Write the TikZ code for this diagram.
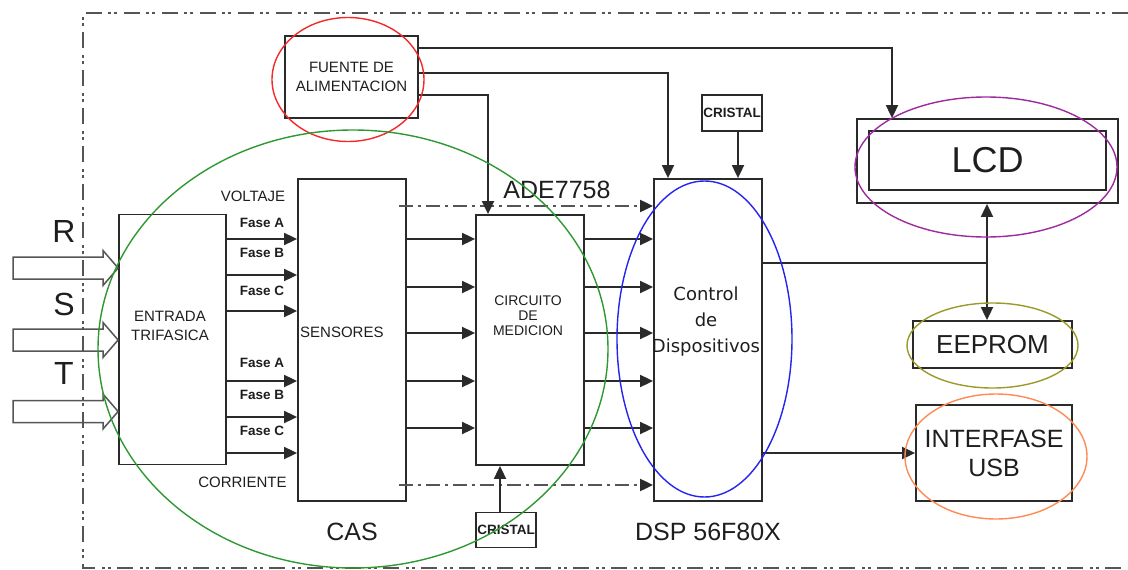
\documentclass[tikz,border=0pt]{standalone}
\usepackage{fontspec}
\setmainfont{Liberation Sans}
\newfontfamily\dvsans{DejaVu Sans}
\usetikzlibrary{arrows.meta,positioning,calc}
\definecolor{ink}{HTML}{1E1E1E}
\definecolor{edge}{HTML}{2A2A2A}
\definecolor{muted}{HTML}{555555}
\definecolor{cred}{HTML}{F42828}
\definecolor{cgreen}{HTML}{2E9932}
\definecolor{cblue}{HTML}{2424EE}
\definecolor{cpurple}{HTML}{9E2A9E}
\definecolor{colive}{HTML}{9A9A28}
\definecolor{corange}{HTML}{FF8A55}
\newcommand\ftiny{\fontsize{13.5}{15}\selectfont\bfseries}
\newcommand\fsml{\fontsize{14}{15}\selectfont}
\newcommand\fmid{\fontsize{15}{19}\selectfont}
\newcommand\fdsp{\dvsans\fontsize{18}{26}\selectfont}
\newcommand\fbig{\fontsize{25}{29}\selectfont}
\tikzset{
  box/.style={draw=edge,line width=1.8pt,inner sep=0pt,align=center,text=ink},
  plain/.style={inner sep=0pt,align=center,text=ink},
  ar/.style={-{Triangle[length=13pt,width=12pt,color=edge]},draw=edge,line width=1.8pt},
  arb/.style={{Triangle[length=13pt,width=12pt]}-{Triangle[length=13pt,width=12pt]},draw=edge,line width=1.8pt},
  ln/.style={draw=edge,line width=1.8pt},
  dd/.style={ar,draw=muted,line width=2pt,dash pattern=on 14pt off 5pt on 3pt off 5pt},
  frame/.style={draw=muted,line width=1.6pt,dash pattern=on 16pt off 7pt on 3pt off 3pt on 3pt off 6pt},
  fat/.style={draw=muted,line width=1.5pt,line join=miter},
  ring/.style={line width=1.4pt},
}
\begin{document}
\begin{tikzpicture}[x=1pt,y=-1pt]
  \useasboundingbox (0,0) rectangle (1128,570);
  \draw[frame] (1128,13) -- (83,13) -- (83,568) -- (1128,568);

  % blocks
  \node[box,minimum width=107pt,minimum height=250pt] (ent) at (172.5,339.5) {};
  \node[plain,font=\fmid] (ent-t) at (170,326) {ENTRADA\\TRIFASICA};
  \node[box,minimum width=108pt,minimum height=322pt] (sens) at (352,340) {};
  \node[plain,font=\fmid,anchor=west] (sens-t) at (300,332) {SENSORES};
  \node[box,minimum width=108pt,minimum height=250pt] (circ) at (530,340) {};
  \node[plain,font=\fsml] (circ-t) at (528,316) {CIRCUITO\\DE\\MEDICION};
  \node[box,minimum width=108pt,minimum height=322pt] (dsp) at (708,340) {};
  \node[plain,font=\fdsp] (dsp-t) at (706,322) {Control\\de\\Dispositivos};
  \node[box,minimum width=133pt,minimum height=82pt,font=\fmid] (fte) at (351.5,77) {FUENTE DE\\ALIMENTACION};
  \node[box,minimum width=60pt,minimum height=36pt,font=\ftiny] (cri1) at (732,113) {CRISTAL};
  \node[box,minimum width=60pt,minimum height=35pt,font=\ftiny] (cri2) at (506,530) {CRISTAL};
  \node[box,minimum width=261pt,minimum height=84pt] (lcdo) at (987.5,161) {};
  \node[box,minimum width=237pt,minimum height=59pt,font=\fontsize{36}{40}\selectfont] (lcd) at (987.5,160.5) {LCD};
  \node[box,minimum width=159pt,minimum height=47pt,font=\fontsize{26}{29}\selectfont] (eep) at (992.5,344.5) {EEPROM};
  \node[box,minimum width=156pt,minimum height=96pt,font=\fbig] (usb) at (994,453) {INTERFASE\\USB};

  \node[plain,font=\fbig] (ade) at (557,190) {ADE7758};
  \node[plain,font=\fbig] (cas) at (352,532) {CAS};
  \node[plain,font=\fbig] (dspn) at (708,532) {DSP 56F80X};
  \node[plain,font=\fmid] (volt) at (253,196) {VOLTAJE};
  \node[plain,font=\fmid] (corr) at (242.5,482) {CORRIENTE};

  % three phase inputs
  \foreach \y/\l/\ly in {268/R/231,340/S/304,411.5/T/373} {
    \draw[fat] (13,\y-11) -- (103,\y-11) -- (103,\y-17.5) -- (ent.west|-0,\y) -- (103,\y+17.5) -- (103,\y+11) -- (13,\y+11) -- cycle;
    \node[plain,font=\fontsize{32}{34}\selectfont] (ph-\l) at (64,\ly) {\l};
  }

  \foreach \y/\ly/\f in {239/223/A,275/253/B,311/291/C,381/363/A,417/395/B,453/431/C} {
    \draw[ar] (ent.east|-0,\y) -- (sens.west|-0,\y);
    \node[plain,font=\ftiny] (fase-\y) at (262,\ly) {Fase \f};
  }
  \foreach \y in {239,287,333,381,428} {
    \draw[ar] (sens.east|-0,\y) -- (circ.west|-0,\y);
    \draw[ar] (circ.east|-0,\y) -- (dsp.west|-0,\y);
  }
  \draw[dd] ([xshift=-8pt]sens.east|-0,206) -- (dsp.west|-0,206);
  \draw[dd] ([xshift=-8pt]sens.east|-0,485) -- (dsp.west|-0,485);

  % power and clocks
  \draw[ar] (fte.east|-0,48) -| (lcdo.north-|892,0);
  \draw[ar] (fte.east|-0,73) -| (dsp.north-|668,0);
  \draw[ar] (fte.east|-0,95) -| (circ.north-|488,0);
  \draw[ar] (cri1.south-|738,0) -- (dsp.north-|738,0);
  \draw[ar] (cri2.north-|500,0) -- (circ.south-|500,0);

  \coordinate (jn) at (987,263);
  \draw[ln] (dsp.east|-jn) -- (jn);
  \draw[arb] (lcdo.south-|jn) -- (eep.north-|jn);
  \draw[ar] (dsp.east|-0,453) -- (usb.west|-0,453);

  % highlight rings
  \draw[ring,cred] (348,79.5) ellipse [x radius=76pt,y radius=62pt];
  \draw[ring,cgreen] (353,349) ellipse [x radius=255pt,y radius=219pt];
  \draw[ring,cblue] (704.5,339) ellipse [x radius=87.5pt,y radius=158pt];
  \draw[ring,cpurple] (986,167) ellipse [x radius=131pt,y radius=70pt];
  \draw[ring,colive] (992.5,345.5) ellipse [x radius=85.5pt,y radius=42.5pt];
  \draw[ring,corange] (996,456.5) ellipse [x radius=91pt,y radius=62.5pt];
\end{tikzpicture}
\end{document}
